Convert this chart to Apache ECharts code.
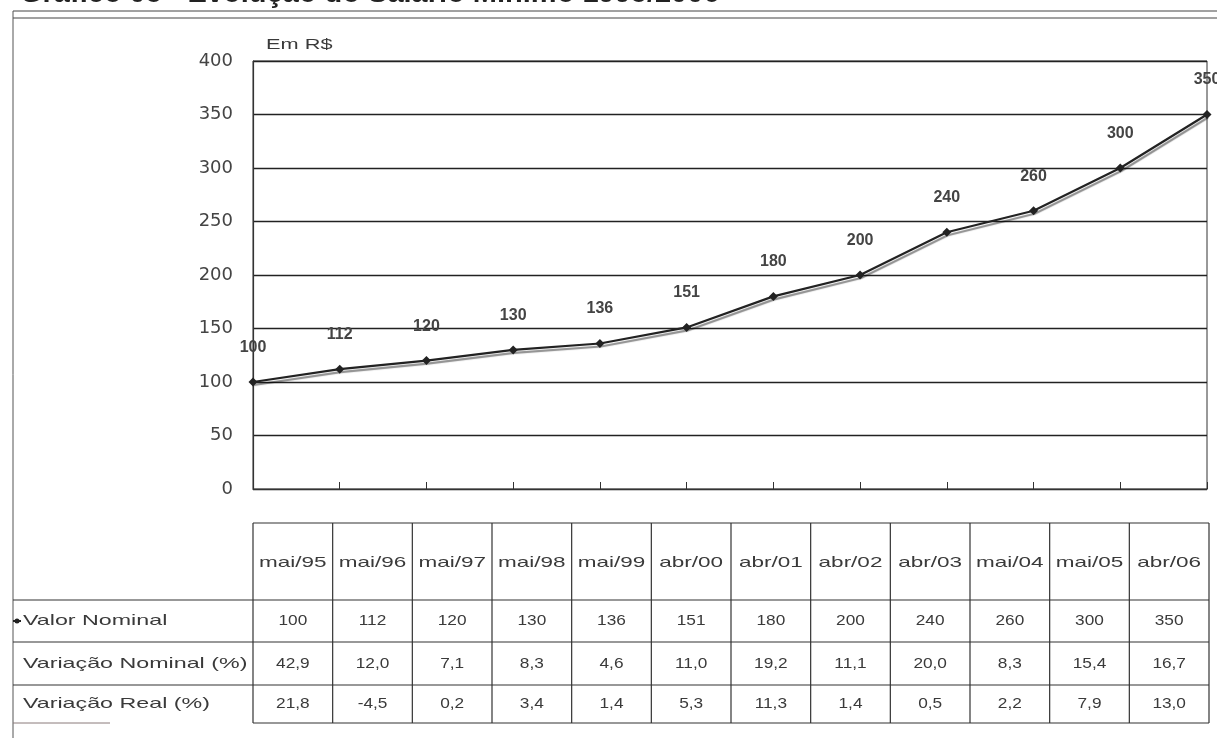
<!DOCTYPE html>
<html>
<head>
<meta charset="utf-8">
<script src="https://cdn.jsdelivr.net/npm/echarts@6/dist/echarts.min.js"></script>
<style>
html,body{margin:0;padding:0;background:#fff;}
#main{width:1217px;height:738px;}
</style>
</head>
<body>
<div id="main"></div>
<script>
var titleText = 'Gráfico 05 - Evolução do Salário Mínimo 1995/2006';
var unitText = 'Em R$';
var categories = ['mai/95','mai/96','mai/97','mai/98','mai/99','abr/00','abr/01','abr/02','abr/03','mai/04','mai/05','abr/06'];
var valorNominal = [100,112,120,130,136,151,180,200,240,260,300,350];
var variacaoNominal = [42.9,12.0,7.1,8.3,4.6,11.0,19.2,11.1,20.0,8.3,15.4,16.7];
var variacaoReal = [21.8,-4.5,0.2,3.4,1.4,5.3,11.3,1.4,0.5,2.2,7.9,13.0];
var rowLabels = ['Valor Nominal','Variação Nominal (%)','Variação Real (%)'];

var FONT = '"Liberation Sans", Arial, sans-serif';
var TXT = '#3a3a3a';
var LINE = '#333';

function fmt(v){ return v.toFixed(1).replace('.', ','); }

var chart = echarts.init(document.getElementById('main'));

// table geometry (layout only)
var tLeft = 253, tRight = 1209, frameLeft = 13;
var rowY = [523, 600, 642, 685, 723];
var colW = (tRight - tLeft) / categories.length;

var g = [];
// title (cut off at the top of the picture)
g.push({type:'text', x:20, y:-21, style:{text:titleText, font:'bold 29px ' + FONT, fill:'#222', textVerticalAlign:'top'}});
// outer frame
g.push({type:'line', shape:{x1:frameLeft,y1:11,x2:1217,y2:11}, style:{stroke:'#444',lineWidth:1}});
g.push({type:'line', shape:{x1:frameLeft,y1:18,x2:1217,y2:18}, style:{stroke:'#444',lineWidth:1.2}});
g.push({type:'line', shape:{x1:frameLeft,y1:11,x2:frameLeft,y2:738}, style:{stroke:'#555',lineWidth:1}});
// unit label
g.push({type:'text', x:266, y:45, scaleX:1.45, style:{text:unitText, font:'15px ' + FONT, fill:TXT, textVerticalAlign:'middle'}});

// table lines
g.push({type:'line', shape:{x1:tLeft,y1:rowY[0],x2:tRight,y2:rowY[0]}, style:{stroke:LINE,lineWidth:1.2}});
for (var r = 1; r < 4; r++) {
  g.push({type:'line', shape:{x1:frameLeft,y1:rowY[r],x2:tRight,y2:rowY[r]}, style:{stroke:LINE,lineWidth:1.2}});
}
g.push({type:'line', shape:{x1:frameLeft,y1:rowY[4],x2:110,y2:rowY[4]}, style:{stroke:'#8a7a7a',lineWidth:1}});
g.push({type:'line', shape:{x1:tLeft,y1:rowY[4],x2:tRight,y2:rowY[4]}, style:{stroke:LINE,lineWidth:1.2}});
for (var c = 0; c <= categories.length; c++) {
  var x = tLeft + c * colW;
  g.push({type:'line', shape:{x1:x,y1:rowY[0],x2:x,y2:rowY[4]}, style:{stroke:LINE,lineWidth:1.2}});
}
// header texts
categories.forEach(function(cat, i){
  g.push({type:'text', x: tLeft + (i + 0.5) * colW, y: (rowY[0] + rowY[1]) / 2 + 1, scaleX: 1.5,
    style:{text:cat, font:'15px ' + FONT, fill:TXT, textAlign:'center', textVerticalAlign:'middle'}});
});
var rows = [
  valorNominal.map(function(v){ return String(v); }),
  variacaoNominal.map(fmt),
  variacaoReal.map(fmt)
];
rows.forEach(function(vals, r){
  var cy = (rowY[r+1] + rowY[r+2]) / 2;
  g.push({type:'text', x: 23, y: cy, scaleX: 1.55,
    style:{text:rowLabels[r], font:'15px ' + FONT, fill:TXT, textAlign:'left', textVerticalAlign:'middle'}});
  vals.forEach(function(s, i){
    g.push({type:'text', x: tLeft + (i + 0.5) * colW, y: cy, scaleX: 1.15,
      style:{text:s, font:'15px ' + FONT, fill:TXT, textAlign:'center', textVerticalAlign:'middle'}});
  });
});
// legend key for Valor Nominal
var ky = (rowY[1] + rowY[2]) / 2;
g.push({type:'line', shape:{x1:frameLeft,y1:ky,x2:21,y2:ky}, style:{stroke:'#222',lineWidth:2}});
g.push({type:'circle', shape:{cx:17,cy:ky,r:2.5}, style:{fill:'#222'}});

var option = {
  animation: false,
  backgroundColor: '#fff',
  grid: {left: 253, right: 10, top: 61, bottom: 249, show: true, borderColor: '#333', borderWidth: 1},
  xAxis: {
    type: 'category',
    data: categories,
    boundaryGap: false,
    axisLine: {lineStyle: {color: '#333', width: 1.2}},
    axisTick: {inside: true, length: 7, alignWithLabel: true, interval: 0, lineStyle: {color: '#333'}},
    axisLabel: {show: false},
    splitLine: {show: false}
  },
  yAxis: {
    type: 'value',
    min: 0, max: 400, interval: 50,
    axisLine: {show: true, lineStyle: {color: '#333', width: 1.2}},
    axisTick: {show: false},
    axisLabel: {fontSize: 18, color: '#444', fontFamily: '"DejaVu Sans", sans-serif', margin: 20},
    splitLine: {lineStyle: {color: '#222', width: 1.3}}
  },
  series: [{
    type: 'line',
    name: 'Valor Nominal',
    data: valorNominal,
    symbol: 'diamond',
    symbolSize: 9,
    itemStyle: {color: '#222'},
    lineStyle: {color: '#222', width: 2.2, shadowColor: 'rgba(0,0,0,0.45)', shadowOffsetY: 3, shadowOffsetX: 1, shadowBlur: 1},
    label: {show: true, position: 'top', distance: 22, fontSize: 16, fontWeight: 'bold', color: '#444', fontFamily: FONT},
    z: 5
  }],
  graphic: g
};
chart.setOption(option);
</script>
</body>
</html>
